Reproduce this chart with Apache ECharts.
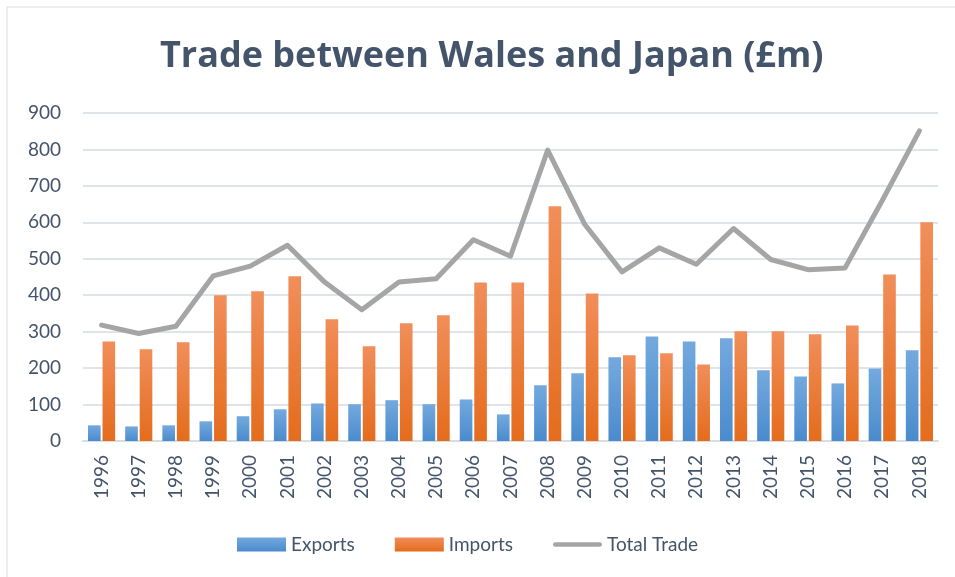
<!DOCTYPE html>
<html>
<head>
<meta charset="utf-8">
<script src="https://cdn.jsdelivr.net/npm/echarts@6/dist/echarts.min.js"></script>
<style>
  html, body { margin: 0; padding: 0; background: #ffffff; }
  #chart { width: 955px; height: 577px; }
</style>
</head>
<body>
<div id="chart"></div>
<script>
// Trade between Wales and Japan (£m)
const years = ["1996", "1997", "1998", "1999", "2000", "2001", "2002", "2003", "2004", "2005", "2006", "2007",
  "2008", "2009", "2010", "2011", "2012", "2013", "2014", "2015", "2016", "2017", "2018"];
const exportsVals = [43, 40, 43, 54, 68, 87, 103, 101, 112, 101, 114, 73, 153, 186, 230, 287, 273, 282, 194, 177, 158, 199, 249];
const importsVals = [273, 252, 271, 400, 411, 452, 334, 260, 323, 345, 435, 435, 644, 405, 235, 241, 210, 301, 301, 293, 317, 457, 600];
const totalVals = [318, 295, 315, 453, 480, 537, 436, 360, 436, 445, 552, 507, 798, 594, 464, 530, 485, 583, 498, 470, 475, 660, 851];
const yTicks = { min: 0, max: 900, step: 100 };

const textColor = "#44546A";
const font = "Lato, 'Open Sans', sans-serif";

function grad(top, bottom) {
  return new echarts.graphic.LinearGradient(0, 0, 0, 1, [
    { offset: 0, color: top },
    { offset: 1, color: bottom }
  ]);
}

const chart = echarts.init(document.getElementById("chart"));

chart.setOption({
  animation: false,
  backgroundColor: "#ffffff",
  textStyle: { fontFamily: font },
  graphic: [{
    type: "rect",
    shape: { x: 7, y: 7, width: 960, height: 580 },
    style: { fill: "none", stroke: "#d9dde3", lineWidth: 1 },
    silent: true,
    z: -10
  }],
  title: {
    text: "Trade between Wales and Japan (£m)",
    left: 155,
    top: 34,
    textStyle: { color: textColor, fontSize: 36, fontWeight: "bold", fontFamily: "'Open Sans', Lato, sans-serif" }
  },
  legend: {
    bottom: 18,
    left: 232,
    itemWidth: 49,
    itemHeight: 14,
    itemGap: 40,
    textStyle: { color: textColor, fontSize: 19, fontFamily: font },
    data: [
      { name: "Exports", icon: "rect" },
      { name: "Imports", icon: "rect" },
      {
        name: "Total Trade",
        icon: "path://M2.5,0 L49.5,0 A2.5,2.5 0 0 1 49.5,5 L2.5,5 A2.5,2.5 0 0 1 2.5,0 Z",
        itemStyle: { color: "#a5a5a5" },
        lineStyle: { width: 0 }
      }
    ]
  },
  grid: { left: 83, right: 17, top: 113, bottom: 136 },
  xAxis: {
    type: "category",
    data: years,
    axisLine: { lineStyle: { color: "#d9dde3", width: 2 } },
    axisTick: { show: false },
    axisLabel: { rotate: 90, color: textColor, fontSize: 19, margin: 14, fontFamily: font }
  },
  yAxis: {
    type: "value",
    min: yTicks.min,
    max: yTicks.max,
    interval: yTicks.step,
    axisLine: { show: false },
    axisTick: { show: false },
    axisLabel: { color: textColor, fontSize: 19, margin: 22, fontFamily: font },
    splitLine: { lineStyle: { color: "#dfe3ea", width: 2 } }
  },
  series: [
    {
      name: "Exports",
      type: "bar",
      data: exportsVals,
      barGap: "15%",
      barCategoryGap: "27%",
      itemStyle: { color: grad("#74a9de", "#4a8bcd") }
    },
    {
      name: "Imports",
      type: "bar",
      data: importsVals,
      barGap: "15%",
      barCategoryGap: "27%",
      itemStyle: { color: grad("#f18e5a", "#e46c1c") }
    },
    {
      name: "Total Trade",
      type: "line",
      data: totalVals,
      symbol: "none",
      lineStyle: { color: "#a5a5a5", width: 5, cap: "round", join: "round" },
      itemStyle: { color: "#a5a5a5" },
      z: 5
    }
  ]
});
</script>
</body>
</html>
